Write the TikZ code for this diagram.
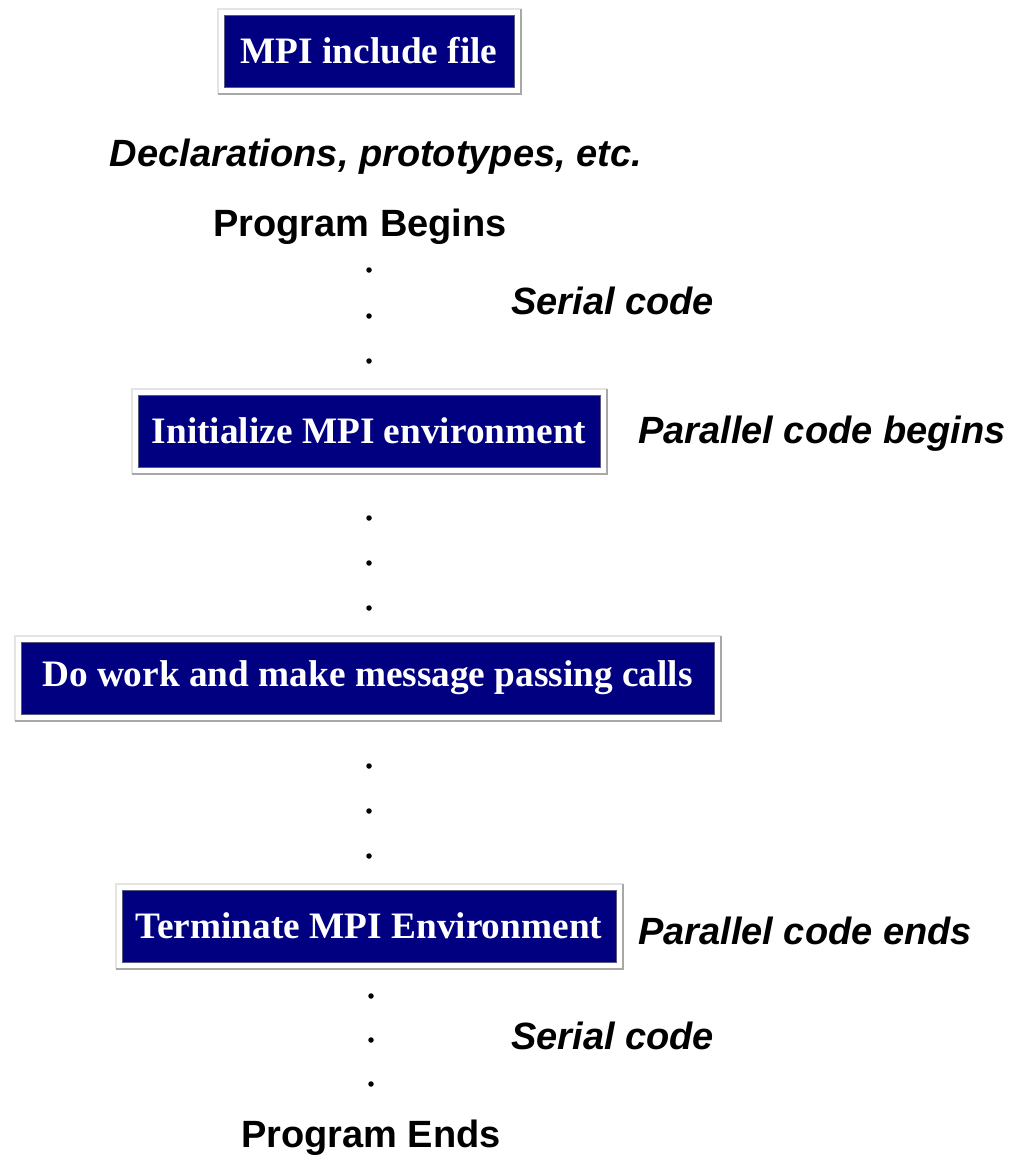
\documentclass[tikz,border=0pt]{standalone}
\usepackage{fontspec}
\setmainfont{Liberation Serif}
\setsansfont{Liberation Sans}
\definecolor{mpinavy}{HTML}{000080}
\definecolor{framelight}{HTML}{E4E4E4}
\definecolor{framedark}{HTML}{A8A8A8}
\begin{document}
\begin{tikzpicture}[x=1pt,y=-1pt,
  mpibox/.style={fill=mpinavy, draw=gray!70!mpinavy, line width=1pt,
    text=white, inner sep=0pt, font=\bfseries\fontsize{37.3}{40}\selectfont,
    minimum height=72pt},
  note/.style={font=\sffamily\bfseries\itshape\fontsize{38}{40}\selectfont, inner sep=0pt},
  heading/.style={font=\sffamily\bfseries\fontsize{38}{40}\selectfont, inner sep=0pt},
  dotmark/.style={circle, fill=black, inner sep=0pt, minimum size=5.5pt}]
\useasboundingbox (0,0) rectangle (1012,1159);

% boxed program steps
\node[mpibox, minimum width=290pt] (inc)  at (369,51)  {MPI include file};
\node[mpibox, minimum width=462pt] (init) at (369,431) {Initialize MPI environment};
\node[mpibox, minimum width=693pt] (work) at (367.5,678) {Do work and make message passing calls};
\node[mpibox, minimum width=494pt] (term) at (369,926) {Terminate MPI Environment};

% bevelled frames around the boxes
\foreach \b in {inc,init,work,term}{
  \fill[white] ([shift={(-6,-6)}]\b.north west) rectangle ([shift={(6,6)}]\b.south east);
  \draw[framelight, line width=2pt] ([shift={(-6,6)}]\b.south west) -- ([shift={(-6,-6)}]\b.north west) -- ([shift={(6,-6)}]\b.north east);
  \draw[framedark, line width=2pt] ([shift={(6,-6)}]\b.north east) -- ([shift={(6,6)}]\b.south east) -- ([shift={(-6,6)}]\b.south west);
}
% redraw boxes above their frames
\node[mpibox, minimum width=290pt] at (inc) {MPI include file};
\node[mpibox, minimum width=462pt] at (init) {Initialize MPI environment};
\node[mpibox, minimum width=693pt] at (work) {Do work and make message passing calls};
\node[mpibox, minimum width=494pt] at (term) {Terminate MPI Environment};

% labels
\node[note] (decl) at (376,157) {Declarations, prototypes, etc.};
\node[heading] (begin) at (360,227) {Program Begins};
\node[note, anchor=west] (ser1) at (511,301) {Serial code};
\node[note, anchor=west] (pbeg) at (638,434) {Parallel code begins};
\node[note, anchor=west] (pend) at (638,931) {Parallel code ends};
\node[note, anchor=west] (ser2) at (511,1036) {Serial code};
\node[heading] (end) at (371,1138) {Program Ends};

% ellipsis dots between steps
\foreach \y [count=\i] in {270,316,361}{\node[dotmark] (da\i) at (369,\y) {};}
\foreach \y [count=\i] in {518,563,608}{\node[dotmark] (db\i) at (369,\y) {};}
\foreach \y [count=\i] in {766,811,856}{\node[dotmark] (dc\i) at (369,\y) {};}
\foreach \y [count=\i] in {996,1040,1084}{\node[dotmark] (dd\i) at (371,\y) {};}
\end{tikzpicture}
\end{document}
